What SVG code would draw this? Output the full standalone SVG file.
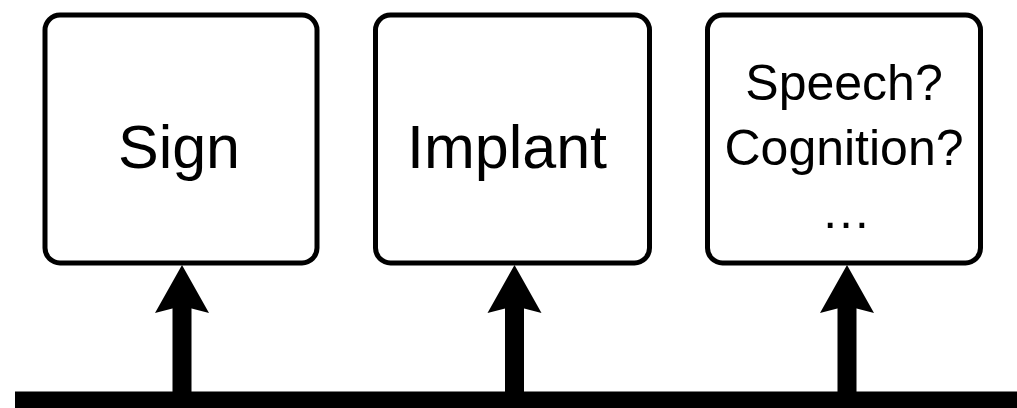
<svg xmlns="http://www.w3.org/2000/svg" width="1017" height="408" viewBox="0 0 1017 408">
  <style>
    .box { fill: #ffffff; stroke: #000000; stroke-width: 5; }
    .label { font-family: "Liberation Sans", Arial, sans-serif; fill: #000000; text-anchor: middle; }
    .big { font-size: 61px; }
    .small { font-size: 50px; }
    .shaft { stroke: #000000; stroke-width: 19; fill: none; marker-end: url(#head); }
  </style>
  <defs>
    <!-- notched arrowhead; origin sits at the notch -->
    <marker id="head" markerUnits="userSpaceOnUse" viewBox="-10 -30 55 60" markerWidth="55" markerHeight="60" refX="0" refY="0" orient="auto">
      <path d="M-7,-27 L41,0 L-7,27 L0,0 Z" fill="#000000"/>
    </marker>
  </defs>

  <rect x="0" y="0" width="1017" height="408" fill="#ffffff"/>

  <g id="node-sign">
    <rect class="box" x="45" y="15" width="272" height="248" rx="15" ry="15"/>
    <text class="label big" x="179" y="168">Sign</text>
  </g>

  <g id="node-implant">
    <rect class="box" x="375.5" y="15" width="274" height="248" rx="15" ry="15"/>
    <text class="label big" x="507" y="168">Implant</text>
  </g>

  <g id="node-other">
    <rect class="box" x="707.5" y="15" width="273" height="248" rx="15" ry="15"/>
    <text class="label small" x="844" y="100">Speech?</text>
    <text class="label small" x="844" y="165">Cognition?</text>
    <text class="label small" x="846" y="228">…</text>
  </g>

  <g id="connectors">
    <!-- base bar -->
    <rect x="15" y="391.5" width="1002" height="16.5" fill="#000000"/>
    <line class="shaft" x1="182" y1="392" x2="182" y2="306"/>
    <line class="shaft" x1="514.5" y1="392" x2="514.5" y2="306"/>
    <line class="shaft" x1="847" y1="392" x2="847" y2="306"/>
  </g>
</svg>
